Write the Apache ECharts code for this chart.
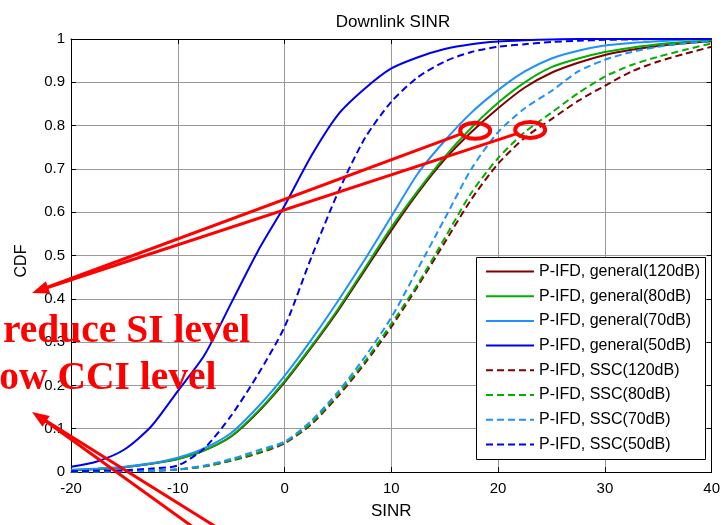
<!DOCTYPE html>
<html>
<head>
<meta charset="utf-8">
<script src="https://cdn.jsdelivr.net/npm/echarts@6/dist/echarts.min.js"></script>
<style>
html, body { margin: 0; padding: 0; background: #fff; }
#main { width: 723px; height: 525px; }
</style>
</head>
<body>
<div id="main"></div>
<script>
// SINR sample points (dB)
const sinr = [-20, -17.5, -15, -12.5, -10, -7.5, -5, -2.5, 0, 2.5, 5, 7.5, 10, 12.5, 15, 17.5, 20, 22.5, 25, 27.5, 30, 32.5, 35, 37.5, 40]

// CDF values
const gen120 = [0.004, 0.007, 0.011, 0.019, 0.03, 0.05, 0.082, 0.138, 0.207, 0.287, 0.372, 0.465, 0.558, 0.645, 0.722, 0.785, 0.84, 0.888, 0.922, 0.945, 0.963, 0.975, 0.984, 0.99, 0.995]
const gen80 = [0.004, 0.007, 0.011, 0.019, 0.03, 0.05, 0.083, 0.14, 0.21, 0.29, 0.376, 0.47, 0.565, 0.65, 0.728, 0.795, 0.853, 0.9, 0.935, 0.955, 0.97, 0.98, 0.988, 0.993, 0.997]
const gen70 = [0.005, 0.008, 0.012, 0.02, 0.033, 0.055, 0.09, 0.15, 0.222, 0.305, 0.395, 0.49, 0.59, 0.69, 0.765, 0.83, 0.882, 0.925, 0.955, 0.973, 0.985, 0.991, 0.995, 0.998, 1]
const gen50 = [0.012, 0.025, 0.052, 0.105, 0.187, 0.27, 0.39, 0.51, 0.615, 0.73, 0.825, 0.885, 0.932, 0.958, 0.977, 0.988, 0.994, 0.997, 0.999, 1, 1, 1, 1, 1, 1]
const ssc120 = [0.001, 0.001, 0.002, 0.003, 0.006, 0.013, 0.026, 0.043, 0.066, 0.11, 0.175, 0.25, 0.335, 0.43, 0.53, 0.63, 0.712, 0.772, 0.815, 0.857, 0.892, 0.925, 0.948, 0.966, 0.982]
const ssc80 = [0.001, 0.001, 0.002, 0.003, 0.006, 0.013, 0.027, 0.045, 0.068, 0.113, 0.18, 0.255, 0.342, 0.435, 0.54, 0.645, 0.725, 0.785, 0.83, 0.875, 0.913, 0.94, 0.959, 0.975, 0.99]
const ssc70 = [0.001, 0.001, 0.002, 0.003, 0.006, 0.015, 0.03, 0.05, 0.07, 0.118, 0.185, 0.265, 0.357, 0.47, 0.585, 0.7, 0.785, 0.84, 0.88, 0.925, 0.952, 0.97, 0.982, 0.99, 0.995]
const ssc50 = [0.002, 0.003, 0.004, 0.008, 0.015, 0.055, 0.13, 0.225, 0.335, 0.495, 0.645, 0.77, 0.855, 0.912, 0.948, 0.97, 0.982, 0.988, 0.993, 0.996, 0.998, 0.999, 1, 1, 1]

const names = [
  'P-IFD, general(120dB)', 'P-IFD, general(80dB)', 'P-IFD, general(70dB)', 'P-IFD, general(50dB)',
  'P-IFD, SSC(120dB)', 'P-IFD, SSC(80dB)', 'P-IFD, SSC(70dB)', 'P-IFD, SSC(50dB)'
]
const values = [gen120, gen80, gen70, gen50, ssc120, ssc80, ssc70, ssc50]
const colors = ['#800000', '#00b000', '#1e90ff', '#0000f0']

const chart = echarts.init(document.getElementById('main'))

const font = 'Liberation Sans'

function axisBase () {
  return {
    type: 'value',
    axisLine: { show: true, onZero: false, lineStyle: { color: '#000', width: 1 } },
    axisTick: { show: true, inside: true, length: 5, lineStyle: { color: '#000' } }
  }
}

const series = values.map((vals, i) => ({
  name: names[i],
  type: 'line',
  data: sinr.map((x, k) => [x, vals[k]]),
  symbol: 'none',
  showSymbol: false,
  smooth: 0.25,
  lineStyle: { color: colors[i % 4], width: 2, type: i < 4 ? 'solid' : [7, 4] },
  itemStyle: { color: colors[i % 4] },
  z: 2
}))

const option = {
  animation: false,
  title: {
    text: 'Downlink SINR',
    left: 388,
    top: 9,
    textAlign: 'center',
    textStyle: { fontSize: 17, fontWeight: 'normal', color: '#000', fontFamily: font }
  },
  grid: { left: 71, right: 8, top: 39, bottom: 52 },
  legend: {
    orient: 'vertical',
    left: 476,
    top: 263.5,
    itemWidth: 48,
    itemHeight: 18,
    itemGap: 8.7,
    padding: [0, 0, 0, 9],
    itemStyle: { opacity: 0 },
    textStyle: { fontSize: 16, color: '#000', fontFamily: font },
    z: 12,
    data: names
  },
  xAxis: [
    Object.assign(axisBase(), {
      min: -20,
      max: 40,
      interval: 10,
      position: 'bottom',
      name: 'SINR',
      nameLocation: 'middle',
      nameGap: 31,
      nameTextStyle: { fontSize: 17, color: '#000', fontFamily: font },
      axisLabel: { color: '#000', fontSize: 15, fontFamily: font, margin: 9 },
      splitLine: { show: true, lineStyle: { color: '#999', width: 1 } }
    }),
    Object.assign(axisBase(), {
      min: -20,
      max: 40,
      interval: 10,
      position: 'top',
      axisLabel: { show: false },
      splitLine: { show: false }
    })
  ],
  yAxis: [
    Object.assign(axisBase(), {
      min: 0,
      max: 1,
      interval: 0.1,
      position: 'left',
      axisLabel: { color: '#000', fontSize: 15, fontFamily: font, margin: 6 },
      splitLine: { show: true, lineStyle: { color: '#999', width: 1 } }
    }),
    Object.assign(axisBase(), {
      min: 0,
      max: 1,
      interval: 0.1,
      position: 'right',
      axisLabel: { show: false },
      splitLine: { show: false }
    })
  ],
  series: series
}

chart.setOption(option)

// red annotations (drawn on top)
const red = '#ff0000'
const e1 = chart.convertToPixel({ gridIndex: 0 }, [17.85, 0.788])
const e2 = chart.convertToPixel({ gridIndex: 0 }, [23.0, 0.79])
const rx = 15
const ry = 8

function head (tip, targets, len, half) {
  let dx = 0
  let dy = 0
  targets.forEach(t => {
    const l = Math.hypot(t[0] - tip[0], t[1] - tip[1])
    dx += (t[0] - tip[0]) / l
    dy += (t[1] - tip[1]) / l
  })
  const l = Math.hypot(dx, dy)
  dx /= l
  dy /= l
  const bx = tip[0] + dx * len
  const by = tip[1] + dy * len
  return [tip, [bx - dy * half, by + dx * half], [bx + dy * half, by - dx * half]]
}

const tip1 = [32, 293]
const endA = [e1[0] - rx + 1, e1[1] + 3]
const endB = [e2[0] - rx + 1, e2[1] + 4]
const tip2 = [32, 412]
const endC = [211, 540]
const endD = [237, 540]

const lineStyle = { stroke: red, lineWidth: 3 }
const graphic = [
  // y axis name
  {
    type: 'text',
    x: 22,
    y: 261,
    rotation: Math.PI / 2,
    style: { text: 'CDF', x: 0, y: 0, textAlign: 'center', textVerticalAlign: 'middle', fill: '#000', font: '16px "Liberation Sans"' },
    z: 5
  },
  // legend frame
  { type: 'rect', shape: { x: 476.5, y: 257.5, width: 229, height: 202 }, style: { fill: '#fff', stroke: '#000', lineWidth: 1 }, z: 10 },
  { type: 'ellipse', shape: { cx: e1[0], cy: e1[1], rx: rx, ry: ry }, style: { fill: null, stroke: red, lineWidth: 4 }, z: 100 },
  { type: 'ellipse', shape: { cx: e2[0], cy: e2[1], rx: rx, ry: ry }, style: { fill: null, stroke: red, lineWidth: 4 }, z: 100 },
  { type: 'line', shape: { x1: tip1[0] + 8, y1: tip1[1] - 3, x2: endA[0], y2: endA[1] }, style: lineStyle, z: 100 },
  { type: 'line', shape: { x1: tip1[0] + 8, y1: tip1[1] - 3, x2: endB[0], y2: endB[1] }, style: lineStyle, z: 100 },
  { type: 'polygon', shape: { points: head(tip1, [endA, endB], 17, 6.5) }, style: { fill: red }, z: 100 },
  { type: 'line', shape: { x1: tip2[0] + 8, y1: tip2[1] + 5, x2: endC[0], y2: endC[1] }, style: lineStyle, z: 100 },
  { type: 'line', shape: { x1: tip2[0] + 8, y1: tip2[1] + 5, x2: endD[0], y2: endD[1] }, style: lineStyle, z: 100 },
  { type: 'polygon', shape: { points: head(tip2, [endC, endD], 17, 6.5) }, style: { fill: red }, z: 100 },
  {
    type: 'text',
    z: 100,
    style: { text: 'reduce SI level', x: 3, y: 332, textVerticalAlign: 'middle', fill: red, font: 'bold 39.5px "Liberation Serif"' }
  },
  {
    type: 'text',
    z: 100,
    style: { text: 'Low CCI level', x: -27, y: 379, textVerticalAlign: 'middle', fill: red, font: 'bold 39.5px "Liberation Serif"' }
  }
]

chart.setOption({ graphic: graphic })

window.addEventListener('resize', () => {
  chart.resize()
})
</script>
</body>
</html>
